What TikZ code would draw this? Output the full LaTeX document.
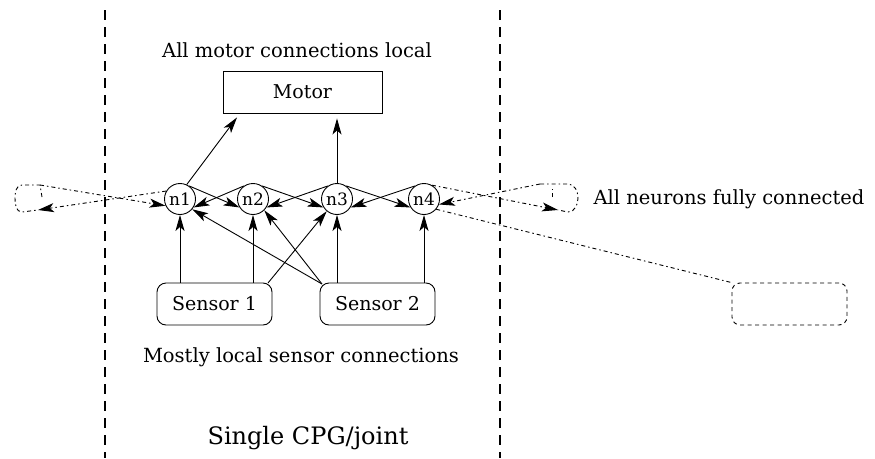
\documentclass[tikz,border=0pt]{standalone}
\usepackage{fontspec}
\setmainfont{DejaVu Serif}
\usetikzlibrary{arrows.meta}
\begin{document}
\begin{tikzpicture}[x=1pt,y=-1pt,
  line width=0.9pt,
  arr/.style={-{Stealth[length=16pt,width=9pt,inset=4pt]}},
  neuron/.style={circle,draw,minimum size=31pt,inner sep=0pt,font=\fontsize{17}{17}\selectfont},
  sensorbox/.style={draw,rounded corners=9pt,minimum width=115pt,minimum height=42pt,inner sep=0pt,font=\fontsize{19}{19}\selectfont},
  motorbox/.style={draw,minimum width=159pt,minimum height=42pt,inner sep=0pt,font=\fontsize{19}{19}\selectfont},
  lbl/.style={font=\fontsize{19.5}{20}\selectfont,inner sep=0pt},
  sep/.style={dash pattern=on 10pt off 7pt,line width=1.1pt},
  dotln/.style={dash pattern=on 4pt off 3pt on 1.5pt off 3pt},
  dotbox/.style={dash pattern=on 4pt off 3.5pt}
]
\useasboundingbox (0,0) rectangle (875,458);

% separators
\coordinate (sL1) at (105,10);
\coordinate (sL2) at (105,458);
\coordinate (sR1) at (500,10);
\coordinate (sR2) at (500,458);
\draw[sep] (sL1) -- (sL2);
\draw[sep] (sR1) -- (sR2);

% labels
\node[lbl] (tmot) at (297,50) {All motor connections local};
\node[lbl] (tneu) at (729,199) {All neurons fully connected};
\node[lbl] (tsen) at (301,357) {Mostly local sensor connections};
\node[lbl,font=\fontsize{24}{24}\selectfont] (tcpg) at (308,438) {Single CPG/joint};

% boxes
\node[motorbox] (motor) at (302.5,92) {Motor};
\node[sensorbox] (s1) at (214.5,304) {Sensor 1};
\node[sensorbox] (s2) at (377.5,304) {Sensor 2};

% neurons
\node[neuron] (n1) at (180,199) {n1};
\node[neuron] (n2) at (253,199) {n2};
\node[neuron] (n3) at (337,199) {n3};
\node[neuron] (n4) at (424,199) {n4};

% neuron-neuron connections
\draw[arr] (n1.55) -- (n2.212);
\draw[arr] (n2.125) -- (n1.328);
\draw[arr] (n2.55) -- (n3.212);
\draw[arr] (n3.125) -- (n2.328);
\draw[arr] (n3.55) -- (n4.212);
\draw[arr] (n4.125) -- (n3.328);

% motor connections
\draw[arr,shorten >=5pt] (n1.65) -- (motor.south west -| 240,0);
\draw[arr,shorten >=5pt] (n3.north) -- (motor.south -| n3);

% sensor connections
\draw[arr] (s1.north -| n1) -- (n1.south);
\draw[arr] (s1.north -| n2) -- (n2.south);
\draw[arr] (s2.north -| n3) -- (n3.south);
\draw[arr] (s2.north -| n4) -- (n4.south);
\coordinate (s1c) at (268,283);
\coordinate (s2c) at (322,284);
\draw[arr] (s1c) -- (n3.230);
\draw[arr] (s2c) -- (n1.320);
\draw[arr] (s2c) -- (n2.315);

% left virtual neuron loop
\coordinate (la) at (38,210);
\coordinate (lb) at (40,185);
\draw[dotln] (42,197) -- (lb) -- (22,185) to[out=180,in=90] (15,198) to[out=-90,in=180] (22,212) -- (la);
\draw[dotln,arr] (n1.150) -- (la);
\draw[dotln,arr] (lb) -- (n1.205);

% right virtual neuron loop
\coordinate (ra) at (558,210);
\coordinate (rb) at (540,184);
\draw[dotln] (552,197) -- (552,186);
\draw[dotln] (rb) -- (568,184) to[out=0,in=90] (578,198) to[out=-90,in=0] (568,212) -- (ra);
\draw[dotln,arr] (n4.60) -- (ra);
\draw[dotln,arr] (rb) -- (n4.340);

% remote neuron group
\node[draw,dotbox,rounded corners=8pt,minimum width=115pt,minimum height=42pt] (far) at (789.5,304) {};
\draw[dotln] (n4.320) -- (far.north west);

\end{tikzpicture}
\end{document}
